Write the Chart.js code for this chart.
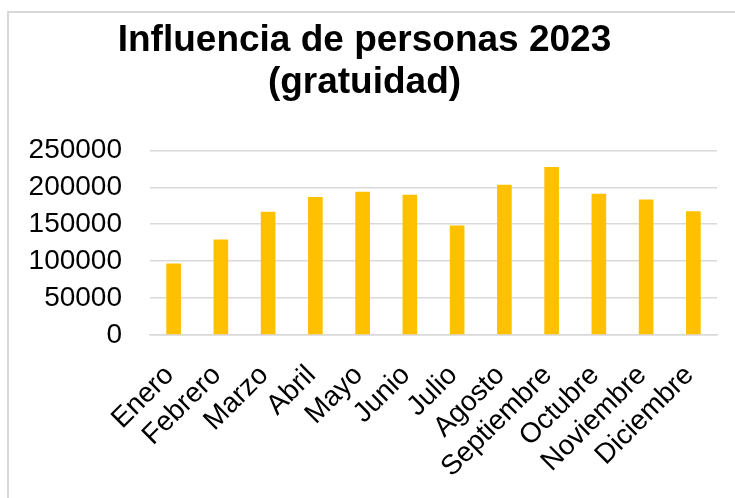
<!DOCTYPE html>
<html>
<head>
<meta charset="utf-8">
<script src="https://cdn.jsdelivr.net/npm/chart.js@4.4.0/dist/chart.umd.min.js"></script>
<style>
  body { margin: 0; background: #fff; }
  #wrap { position: relative; width: 735px; height: 498px; overflow: hidden; }
  #frame { position: absolute; left: 7px; top: 11px; width: 760px; height: 520px; border: 2px solid #d9d9d9; box-sizing: border-box; }
  #box { position: absolute; left: 0; top: 0; width: 735px; height: 498px; }
</style>
</head>
<body>
<div id="wrap">
  <div id="frame"></div>
  <div id="box"><canvas id="chart"></canvas></div>
</div>
<script>
// datos
const meses = ['Enero', 'Febrero', 'Marzo', 'Abril', 'Mayo', 'Junio', 'Julio',
  'Agosto', 'Septiembre', 'Octubre', 'Noviembre', 'Diciembre'];
const personas = [96700, 129300, 166800, 186700, 194000, 189900, 148300,
  203500, 227400, 191300, 183500, 167700];
const tituloLineas = ['Influencia de personas 2023', '(gratuidad)'];
const yMax = 250000;
const yPaso = 50000;

const fuente = "'Liberation Sans', Arial, sans-serif";

const ctx = document.getElementById('chart').getContext('2d');
new Chart(ctx, {
    type: 'bar',
    data: {
        labels: meses,
        datasets: [{
            label: 'Personas',
            data: personas,
            backgroundColor: '#FFC000',
            borderWidth: 0,
            barPercentage: 0.31,
            categoryPercentage: 1.0,
        }],
    },
    options: {
        responsive: true,
        maintainAspectRatio: false,
        animation: false,
        layout: {
            padding: { left: 12, right: 18, top: 16, bottom: 0 }
        },
        plugins: {
            legend: { display: false },
            tooltip: { enabled: false },
            title: {
                display: true,
                text: tituloLineas,
                color: '#000',
                font: { family: fuente, size: 37, weight: 'bold', lineHeight: 1.14 },
                padding: { top: 4, bottom: 46 }
            }
        },
        scales: {
            y: {
                min: 0,
                max: yMax,
                afterFit: function (axis) { axis.width = 138; },
                ticks: {
                    stepSize: yPaso,
                    color: '#000',
                    padding: 28,
                    font: { family: fuente, size: 28 },
                    callback: function (value) { return String(value); }
                },
                grid: { color: '#d9d9d9', lineWidth: 1.5, drawTicks: false },
                border: { display: false }
            },
            x: {
                afterFit: function (axis) {
                    axis.height = 163;
                    axis.paddingRight = 0;  // las etiquetas giradas no deben encoger el area
                    axis.paddingLeft = 0;
                },
                ticks: {
                    color: '#000',
                    autoSkip: false,
                    minRotation: 45,
                    maxRotation: 45,
                    padding: 24,
                    labelOffset: -4,
                    font: { family: fuente, size: 28 }
                },
                grid: { display: false, drawTicks: false },
                border: { color: '#d9d9d9', width: 1.5 }
            }
        }
    }
});
</script>
</body>
</html>
